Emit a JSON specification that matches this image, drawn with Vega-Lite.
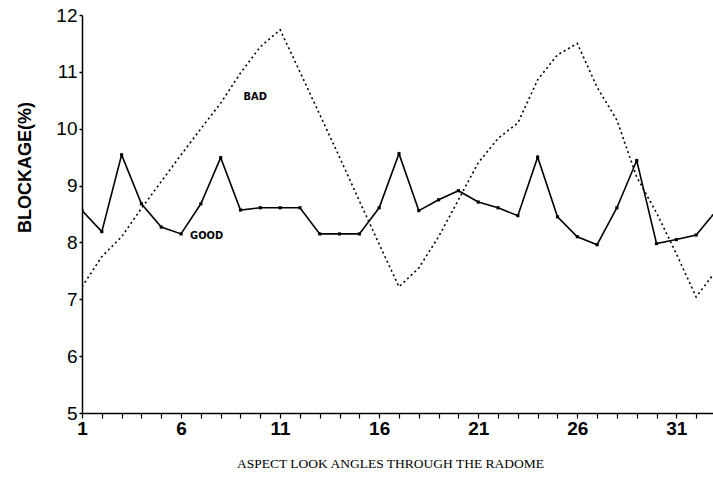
{
  "$schema": "https://vega.github.io/schema/vega-lite/v6.json",
  "width": 631,
  "height": 398,
  "autosize": {"type": "none"},
  "padding": {"left": 82, "top": 15, "right": 0, "bottom": 77},
  "background": "white",
  "config": {
    "view": {"stroke": null},
    "axis": {"grid": false, "domainColor": "black", "domainWidth": 1.5, "tickColor": "black", "labelColor": "black", "titleColor": "black"}
  },
  "data": {
    "values": [
      {"angle": 1, "series": "GOOD", "blockage": 8.56, "label": ""},
      {"angle": 2, "series": "GOOD", "blockage": 8.19, "label": ""},
      {"angle": 3, "series": "GOOD", "blockage": 9.54, "label": ""},
      {"angle": 4, "series": "GOOD", "blockage": 8.68, "label": ""},
      {"angle": 5, "series": "GOOD", "blockage": 8.27, "label": ""},
      {"angle": 6, "series": "GOOD", "blockage": 8.15, "label": "GOOD"},
      {"angle": 7, "series": "GOOD", "blockage": 8.68, "label": ""},
      {"angle": 8, "series": "GOOD", "blockage": 9.49, "label": ""},
      {"angle": 9, "series": "GOOD", "blockage": 8.57, "label": ""},
      {"angle": 10, "series": "GOOD", "blockage": 8.61, "label": ""},
      {"angle": 11, "series": "GOOD", "blockage": 8.61, "label": ""},
      {"angle": 12, "series": "GOOD", "blockage": 8.61, "label": ""},
      {"angle": 13, "series": "GOOD", "blockage": 8.15, "label": ""},
      {"angle": 14, "series": "GOOD", "blockage": 8.15, "label": ""},
      {"angle": 15, "series": "GOOD", "blockage": 8.15, "label": ""},
      {"angle": 16, "series": "GOOD", "blockage": 8.61, "label": ""},
      {"angle": 17, "series": "GOOD", "blockage": 9.56, "label": ""},
      {"angle": 18, "series": "GOOD", "blockage": 8.56, "label": ""},
      {"angle": 19, "series": "GOOD", "blockage": 8.75, "label": ""},
      {"angle": 20, "series": "GOOD", "blockage": 8.91, "label": ""},
      {"angle": 21, "series": "GOOD", "blockage": 8.71, "label": ""},
      {"angle": 22, "series": "GOOD", "blockage": 8.61, "label": ""},
      {"angle": 23, "series": "GOOD", "blockage": 8.47, "label": ""},
      {"angle": 24, "series": "GOOD", "blockage": 9.5, "label": ""},
      {"angle": 25, "series": "GOOD", "blockage": 8.45, "label": ""},
      {"angle": 26, "series": "GOOD", "blockage": 8.1, "label": ""},
      {"angle": 27, "series": "GOOD", "blockage": 7.96, "label": ""},
      {"angle": 28, "series": "GOOD", "blockage": 8.61, "label": ""},
      {"angle": 29, "series": "GOOD", "blockage": 9.44, "label": ""},
      {"angle": 30, "series": "GOOD", "blockage": 7.98, "label": ""},
      {"angle": 31, "series": "GOOD", "blockage": 8.05, "label": ""},
      {"angle": 32, "series": "GOOD", "blockage": 8.13, "label": ""},
      {"angle": 33, "series": "GOOD", "blockage": 8.55, "label": ""},
      {"angle": 1, "series": "BAD", "blockage": 7.22, "label": ""},
      {"angle": 2, "series": "BAD", "blockage": 7.75, "label": ""},
      {"angle": 3, "series": "BAD", "blockage": 8.1, "label": ""},
      {"angle": 4, "series": "BAD", "blockage": 8.6, "label": ""},
      {"angle": 5, "series": "BAD", "blockage": 9.07, "label": ""},
      {"angle": 6, "series": "BAD", "blockage": 9.54, "label": ""},
      {"angle": 7, "series": "BAD", "blockage": 10.0, "label": ""},
      {"angle": 8, "series": "BAD", "blockage": 10.45, "label": ""},
      {"angle": 9, "series": "BAD", "blockage": 10.98, "label": "BAD"},
      {"angle": 10, "series": "BAD", "blockage": 11.44, "label": ""},
      {"angle": 11, "series": "BAD", "blockage": 11.74, "label": ""},
      {"angle": 12, "series": "BAD", "blockage": 11.0, "label": ""},
      {"angle": 13, "series": "BAD", "blockage": 10.25, "label": ""},
      {"angle": 14, "series": "BAD", "blockage": 9.5, "label": ""},
      {"angle": 15, "series": "BAD", "blockage": 8.73, "label": ""},
      {"angle": 16, "series": "BAD", "blockage": 7.97, "label": ""},
      {"angle": 17, "series": "BAD", "blockage": 7.22, "label": ""},
      {"angle": 18, "series": "BAD", "blockage": 7.55, "label": ""},
      {"angle": 19, "series": "BAD", "blockage": 8.1, "label": ""},
      {"angle": 20, "series": "BAD", "blockage": 8.75, "label": ""},
      {"angle": 21, "series": "BAD", "blockage": 9.4, "label": ""},
      {"angle": 22, "series": "BAD", "blockage": 9.83, "label": ""},
      {"angle": 23, "series": "BAD", "blockage": 10.1, "label": ""},
      {"angle": 24, "series": "BAD", "blockage": 10.86, "label": ""},
      {"angle": 25, "series": "BAD", "blockage": 11.3, "label": ""},
      {"angle": 26, "series": "BAD", "blockage": 11.5, "label": ""},
      {"angle": 27, "series": "BAD", "blockage": 10.73, "label": ""},
      {"angle": 28, "series": "BAD", "blockage": 10.15, "label": ""},
      {"angle": 29, "series": "BAD", "blockage": 9.15, "label": ""},
      {"angle": 30, "series": "BAD", "blockage": 8.52, "label": ""},
      {"angle": 31, "series": "BAD", "blockage": 7.8, "label": ""},
      {"angle": 32, "series": "BAD", "blockage": 7.04, "label": ""},
      {"angle": 33, "series": "BAD", "blockage": 7.5, "label": ""}
    ]
  },
  "encoding": {
    "x": {
      "field": "angle",
      "type": "quantitative",
      "scale": {"domain": [1, 32.85], "nice": false, "zero": false},
      "axis": {
        "title": "ASPECT LOOK ANGLES THROUGH THE RADOME",
        "titleFont": "Liberation Serif",
        "titleFontSize": 13.5,
        "titleFontWeight": "normal",
        "titleX": 308,
        "titleY": 50,
        "titleAlign": "center",
        "titleBaseline": "middle",
        "values": [1,2,3,4,5,6,7,8,9,10,11,12,13,14,15,16,17,18,19,20,21,22,23,24,25,26,27,28,29,30,31,32],
        "labelExpr": "(datum.value - 1) % 5 == 0 ? datum.label : ''",
        "labelFont": "Liberation Sans",
        "labelFontSize": 19,
        "labelFontWeight": "bold",
        "labelFlush": false,
        "labelOverlap": false,
        "labelPadding": 1,
        "tickSize": 5,
        "tickWidth": 1.2
      }
    },
    "y": {
      "field": "blockage",
      "type": "quantitative",
      "scale": {"domain": [5, 12], "nice": false, "zero": false},
      "axis": {
        "title": "BLOCKAGE(%)",
        "titleFont": "Liberation Sans",
        "titleFontSize": 18,
        "titleFontWeight": "bold",
        "titleAngle": -90,
        "titleX": -57,
        "titleY": 152,
        "titleAlign": "center",
        "titleBaseline": "middle",
        "values": [5,6,7,8,9,10,11,12],
        "labelFont": "Liberation Sans",
        "labelFontSize": 19,
        "labelPadding": 2,
        "tickSize": 3,
        "tickWidth": 1.5
      }
    }
  },
  "layer": [
    {
      "transform": [{"filter": "datum.series == 'BAD'"}],
      "mark": {"type": "line", "color": "black", "strokeWidth": 1.6, "strokeDash": [2, 3], "clip": true}
    },
    {
      "transform": [{"filter": "datum.series == 'GOOD'"}],
      "mark": {"type": "line", "color": "black", "strokeWidth": 1.6, "clip": true}
    },
    {
      "transform": [{"filter": "datum.series == 'GOOD'"}],
      "mark": {"type": "point", "shape": "square", "filled": true, "color": "black", "size": 10, "opacity": 1, "clip": true}
    },
    {
      "transform": [{"filter": "datum.label == 'GOOD'"}],
      "mark": {"type": "text", "font": "'DejaVu Sans Condensed', 'Liberation Sans', sans-serif", "fontSize": 11, "fontWeight": "bold", "align": "left", "baseline": "middle", "dx": 9, "dy": 2, "color": "black"},
      "encoding": {"text": {"field": "label"}}
    },
    {
      "transform": [{"filter": "datum.label == 'BAD'"}],
      "mark": {"type": "text", "font": "'DejaVu Sans Condensed', 'Liberation Sans', sans-serif", "fontSize": 11, "fontWeight": "bold", "align": "left", "baseline": "middle", "dx": 3, "dy": 24, "color": "black"},
      "encoding": {"text": {"field": "label"}}
    }
  ]
}
